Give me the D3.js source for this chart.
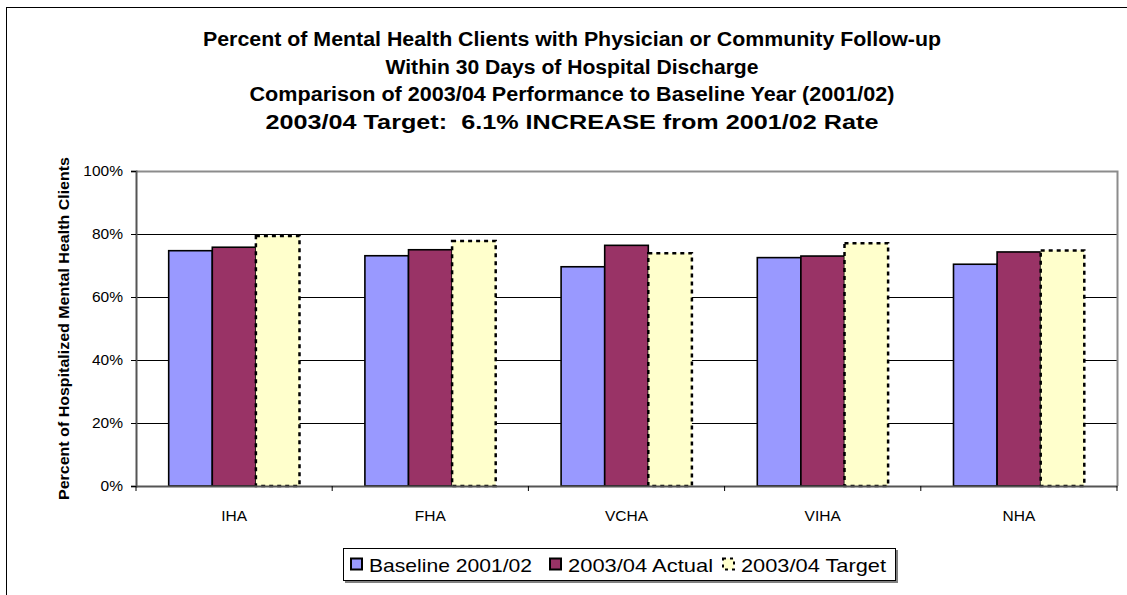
<!DOCTYPE html>
<html>
<head>
<meta charset="utf-8">
<script src="https://cdn.jsdelivr.net/npm/d3@7"></script>
<style>
  html, body { margin: 0; padding: 0; background: #fff; }
  svg { display: block; font-family: "Liberation Sans", Arial, sans-serif; }
  text { white-space: pre; }
</style>
</head>
<body>
<svg id="chart" width="1127" height="595"></svg>
<script>
// Health authorities along the x axis
const categories = ["IHA", "FHA", "VCHA", "VIHA", "NHA"];
// Series names shown in the legend
const seriesNames = ["Baseline 2001/02", "2003/04 Actual", "2003/04 Target"];
// Percent of clients with follow-up, per authority
const baseline = [74.7, 73.1, 69.6, 72.5, 70.4];
const actual   = [75.8, 75.0, 76.4, 73.0, 74.3];
const target   = [79.4, 77.8, 73.9, 77.1, 74.8];
// Y axis ticks
const yTicks = [0, 20, 40, 60, 80, 100];
// Title lines
const titleLines = [
  "Percent of Mental Health Clients with Physician or Community Follow-up",
  "Within 30 Days of Hospital Discharge",
  "Comparison of 2003/04 Performance to Baseline Year (2001/02)",
  "2003/04 Target:  6.1% INCREASE from 2001/02 Rate"
];
const yTitle = "Percent of Hospitalized Mental Health Clients";

const seriesValues = [baseline, actual, target];
const fills = ["#9999FF", "#993366", "#FFFFCC"];

const svg = d3.select("#chart");

// outer chart frame
svg.append("rect")
  .attr("x", 6.5).attr("y", 7.5)
  .attr("width", 1200).attr("height", 700)
  .attr("fill", "#fff").attr("stroke", "#000").attr("stroke-width", 1);

// plot area
const plot = { left: 136, top: 171, right: 1117, bottom: 486 };

const x0 = d3.scaleBand().domain(categories).range([plot.left, plot.right]).padding(0);
const gw = x0.bandwidth();
const barW = gw / 4.5;
const x1 = d3.scaleBand().domain(d3.range(seriesNames.length))
  .range([barW * 0.75, gw - barW * 0.75]).padding(0);
const y = d3.scaleLinear().domain([0, 100]).range([plot.bottom, plot.top]);

// gridlines
svg.append("g").selectAll("line")
  .data(yTicks.filter(t => t > 0 && t < 100))
  .join("line")
  .attr("x1", plot.left).attr("x2", plot.right)
  .attr("y1", d => Math.round(y(d)) + 0.5).attr("y2", d => Math.round(y(d)) + 0.5)
  .attr("stroke", "#000").attr("stroke-width", 1);

// top and right border of plot area
svg.append("path")
  .attr("d", `M${plot.left},${plot.top + 0.5}H${plot.right + 0.5}V${plot.bottom}`)
  .attr("fill", "none").attr("stroke", "#8c8c8c").attr("stroke-width", 2);

// bars
const groups = svg.append("g").selectAll("g")
  .data(categories)
  .join("g")
  .attr("transform", d => `translate(${x0(d)},0)`);

seriesNames.forEach((name, si) => {
  groups.append("rect")
    .attr("x", (d, i) => x1(si))
    .attr("y", (d, i) => y(seriesValues[si][i]))
    .attr("width", x1.bandwidth())
    .attr("height", (d, i) => y(0) - y(seriesValues[si][i]))
    .attr("fill", fills[si])
    .attr("stroke", "#000")
    .attr("stroke-width", si === 2 ? 2.5 : 1.6)
    .attr("stroke-dasharray", si === 2 ? "4,4" : null);
});

// y axis
const yAxis = d3.axisLeft(y).tickValues(yTicks).tickFormat(d => d + "%")
  .tickSize(5).tickPadding(8);
const gy = svg.append("g").attr("transform", `translate(${plot.left},0)`).call(yAxis);
gy.select(".domain").attr("stroke", "#555").attr("stroke-width", 2);
gy.selectAll(".tick line").attr("stroke", "#000");
gy.selectAll("text").attr("font-size", 15.5).attr("fill", "#000")
  .attr("font-family", "'Liberation Sans', Arial, sans-serif");

// x axis with ticks between categories
const xAxis = d3.axisBottom(x0).tickSize(0).tickPadding(24);
const gx = svg.append("g").attr("transform", `translate(0,${plot.bottom})`).call(xAxis);
gx.select(".domain").attr("stroke", "#555").attr("stroke-width", 2);
gx.selectAll("text").attr("font-size", 15.5).attr("fill", "#000")
  .attr("font-family", "'Liberation Sans', Arial, sans-serif");
gx.append("g").selectAll("line")
  .data(d3.range(categories.length + 1))
  .join("line")
  .attr("x1", i => plot.left + i * gw).attr("x2", i => plot.left + i * gw)
  .attr("y1", 0).attr("y2", 5)
  .attr("stroke", "#000");

// y axis title
svg.append("text")
  .attr("transform", `translate(69,${(plot.top + plot.bottom) / 2}) rotate(-90)`)
  .attr("text-anchor", "middle")
  .attr("font-size", 15).attr("font-weight", "bold")
  .attr("textLength", 343).attr("lengthAdjust", "spacingAndGlyphs")
  .text(yTitle);

// title
const titleWidths = [738, 373, 645, 613];
svg.append("g").selectAll("text")
  .data(titleLines)
  .join("text")
  .attr("x", 572)
  .attr("y", (d, i) => 46 + i * 27.5)
  .attr("text-anchor", "middle")
  .attr("font-size", 19.5).attr("font-weight", "bold")
  .attr("textLength", (d, i) => titleWidths[i])
  .attr("lengthAdjust", "spacingAndGlyphs")
  .text(d => d);

// legend
const legend = svg.append("g");
legend.append("rect")
  .attr("x", 345).attr("y", 550).attr("width", 553).attr("height", 33)
  .attr("fill", "#808080");
legend.append("rect")
  .attr("x", 343.5).attr("y", 548.5).attr("width", 552).attr("height", 32)
  .attr("fill", "#fff").attr("stroke", "#000").attr("stroke-width", 1);

const legendX = [350, 549, 722];
const legendTextW = [163, 145, 145];
seriesNames.forEach((name, si) => {
  legend.append("rect")
    .attr("x", legendX[si] + 1).attr("y", 558.5)
    .attr("width", 11).attr("height", 11)
    .attr("fill", fills[si])
    .attr("stroke", "#000")
    .attr("stroke-width", 2)
    .attr("stroke-dasharray", si === 2 ? "3,4" : null);
  legend.append("text")
    .attr("x", legendX[si] + 19).attr("y", 572)
    .attr("font-size", 19)
    .attr("textLength", legendTextW[si]).attr("lengthAdjust", "spacingAndGlyphs")
    .text(name);
});
</script>
</body>
</html>
